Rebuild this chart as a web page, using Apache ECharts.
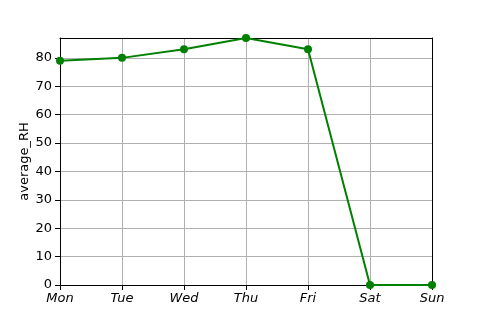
<!DOCTYPE html>
<html><head><meta charset="utf-8">
<script src="https://cdn.jsdelivr.net/npm/echarts@6/dist/echarts.min.js"></script>
<style>html,body{margin:0;padding:0;background:#fff}#c{width:480px;height:320px}</style>
</head><body><div id="c"></div>
<script>
const categories = ['Mon','Tue','Wed','Thu','Fri','Sat','Sun'];
const averageRH = [79, 80, 83, 87, 83, 0, 0];
const yTicks = [0, 10, 20, 30, 40, 50, 60, 70, 80];

const chart = echarts.init(document.getElementById('c'));
chart.setOption({
  animation: false,
  backgroundColor: '#fff',
  textStyle: {fontFamily: 'DejaVu Sans'},
  grid: {left: 60, right: 48, top: 38, bottom: 35},
  xAxis: [{
    type: 'category', data: categories, boundaryGap: false,
    axisLine: {onZero: false, lineStyle: {color: '#000', width: 1}},
    axisTick: {show: true, length: 5, lineStyle: {color: '#000'}, alignWithLabel: true},
    axisLabel: {color: '#000', fontSize: 13, fontStyle: 'italic', fontFamily: 'DejaVu Sans', margin: 7},
    splitLine: {show: true, lineStyle: {color: '#b0b0b0', width: 1}},
    z: 1
  }, {
    type: 'category', data: categories, boundaryGap: false, position: 'top',
    axisLine: {show: true, onZero: false, lineStyle: {color: '#000', width: 1}},
    axisTick: {show: false}, axisLabel: {show: false}, splitLine: {show: false},
    z: 5
  }],
  yAxis: [{
    type: 'value', min: 0, max: 87, interval: 10,
    name: 'average_RH', nameLocation: 'middle', nameGap: 29, nameMoveOverlap: false,
    nameTextStyle: {color: '#000', fontSize: 13, fontFamily: 'DejaVu Sans'},
    axisLine: {show: true, onZero: false, lineStyle: {color: '#000', width: 1}},
    axisTick: {show: true, length: 5, lineStyle: {color: '#000'}},
    axisLabel: {color: '#000', fontSize: 13, fontFamily: 'DejaVu Sans', margin: 8, showMaxLabel: false},
    splitLine: {show: true, lineStyle: {color: '#b0b0b0', width: 1}},
    z: 1
  }, {
    type: 'value', min: 0, max: 87, interval: 10, position: 'right',
    axisLine: {show: true, onZero: false, lineStyle: {color: '#000', width: 1}},
    axisTick: {show: false}, axisLabel: {show: false}, splitLine: {show: false},
    z: 5
  }],
  series: [{
    type: 'line', data: averageRH,
    symbol: 'circle', symbolSize: 8,
    lineStyle: {color: '#008000', width: 2},
    itemStyle: {color: '#008000'},
    clip: false, z: 10
  }]
});
</script></body></html>
